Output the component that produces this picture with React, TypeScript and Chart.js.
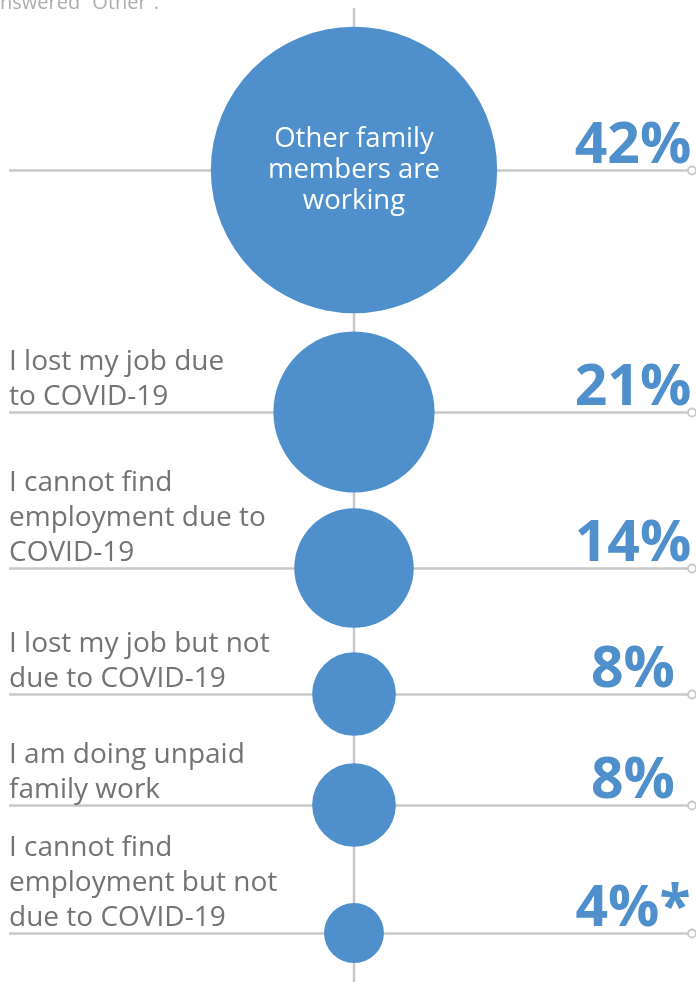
import React, { useEffect, useRef } from "react";
import { Chart, registerables } from "chart.js";

Chart.register(...registerables);

// ---- data ----
const categories: string[][] = [
  ["Other family", "members are", "working"],
  ["I lost my job due", "to COVID-19"],
  ["I cannot find", "employment due to", "COVID-19"],
  ["I lost my job but not", "due to COVID-19"],
  ["I am doing unpaid", "family work"],
  ["I cannot find", "employment but not", "due to COVID-19"],
];
const values: number[] = [42, 21, 14, 8, 8, 4];
const valueLabels: string[] = ["42%", "21%", "14%", "8%", "8%", "4%*"];
const footnote = "answered \u201COther\u201D.";

// ---- layout (pixel units of the hidden scales) ----
const ROW_Y = [170, 412, 568, 694, 805, 933];
const X_MIN = -354;
const X_MAX = 342;
const H = 982;
const W = 696;

const BLUE = "#4E8FCC";
const GRID = "#C8C8C8";
const TEXT = "#737373";
const FONT = "'Open Sans', 'Noto Sans', sans-serif";

const radiusFor = (v: number) => 18 + 2.98 * v;

const decorPlugin = {
  id: "decor",
  beforeDatasetsDraw(chart: any) {
    const ctx = chart.ctx as CanvasRenderingContext2D;
    const xs = chart.scales.x;
    const meta = chart.getDatasetMeta(0);
    const cx = xs.getPixelForValue(0);
    ctx.save();
    ctx.strokeStyle = GRID;
    ctx.lineWidth = 2.5;
    ctx.beginPath();
    ctx.moveTo(cx, 8);
    ctx.lineTo(cx, chart.height);
    ctx.stroke();
    meta.data.forEach((pt: any) => {
      const y = Math.round(pt.y) + 0.5;
      ctx.beginPath();
      ctx.moveTo(9, y);
      ctx.lineTo(688, y);
      ctx.stroke();
      ctx.beginPath();
      ctx.lineWidth = 1.8;
      ctx.fillStyle = "#ffffff";
      ctx.arc(692, y, 4, 0, Math.PI * 2);
      ctx.fill();
      ctx.stroke();
      ctx.lineWidth = 2.5;
    });
    ctx.restore();
  },
  afterDatasetsDraw(chart: any) {
    const ctx = chart.ctx as CanvasRenderingContext2D;
    const meta = chart.getDatasetMeta(0);
    ctx.save();
    // footnote at the top (clipped at left)
    ctx.fillStyle = "#ADADAD";
    ctx.font = `20px ${FONT}`;
    ctx.textAlign = "left";
    ctx.textBaseline = "alphabetic";
    const aw = ctx.measureText("a").width;
    ctx.fillText(footnote, -aw, 9);

    meta.data.forEach((pt: any, i: number) => {
      const y = pt.y;
      const lines = categories[i];
      ctx.textBaseline = "alphabetic";
      if (i === 0) {
        ctx.fillStyle = "#ffffff";
        ctx.font = `27.5px ${FONT}`;
        ctx.textAlign = "center";
        const lh = 31;
        const start = y - 23;
        lines.forEach((l, k) => ctx.fillText(l, pt.x, start + k * lh));
      } else {
        ctx.fillStyle = TEXT;
        ctx.font = `28px ${FONT}`;
        ctx.textAlign = "left";
        const lh = 35;
        const last = y - 7;
        lines.forEach((l, k) =>
          ctx.fillText(l, 9, last - (lines.length - 1 - k) * lh)
        );
      }
      ctx.fillStyle = BLUE;
      ctx.font = `bold 57px ${FONT}`;
      ctx.textAlign = "center";
      ctx.fillText(valueLabels[i], 633, y - 7);
    });
    ctx.restore();
  },
};

export default function App() {
  const ref = useRef<HTMLCanvasElement | null>(null);
  useEffect(() => {
    if (!ref.current) return;
    const chart = new Chart(ref.current, {
      type: "bubble",
      data: {
        datasets: [
          {
            data: values.map((v, i) => ({ x: 0, y: ROW_Y[i] })),
            backgroundColor: BLUE,
            borderWidth: 0,
            radius: (c: any) => radiusFor(values[c.dataIndex]),
            hoverRadius: 0,
            clip: false,
          } as any,
        ],
      },
      options: {
        responsive: false,
        animation: false,
        events: [],
        layout: { padding: 0, autoPadding: false },
        plugins: { legend: { display: false }, tooltip: { enabled: false } },
        scales: {
          x: { type: "linear", min: X_MIN, max: X_MAX, display: false },
          y: { type: "linear", min: 0, max: H, reverse: true, display: false },
        },
      },
      plugins: [decorPlugin],
    });
    return () => chart.destroy();
  }, []);
  return (
    <div style={{ position: "fixed", left: 0, top: 0, width: W, height: H, background: "#fff" }}>
      <canvas ref={ref} width={W} height={H} style={{ display: "block", width: W, height: H }} />
    </div>
  );
}
